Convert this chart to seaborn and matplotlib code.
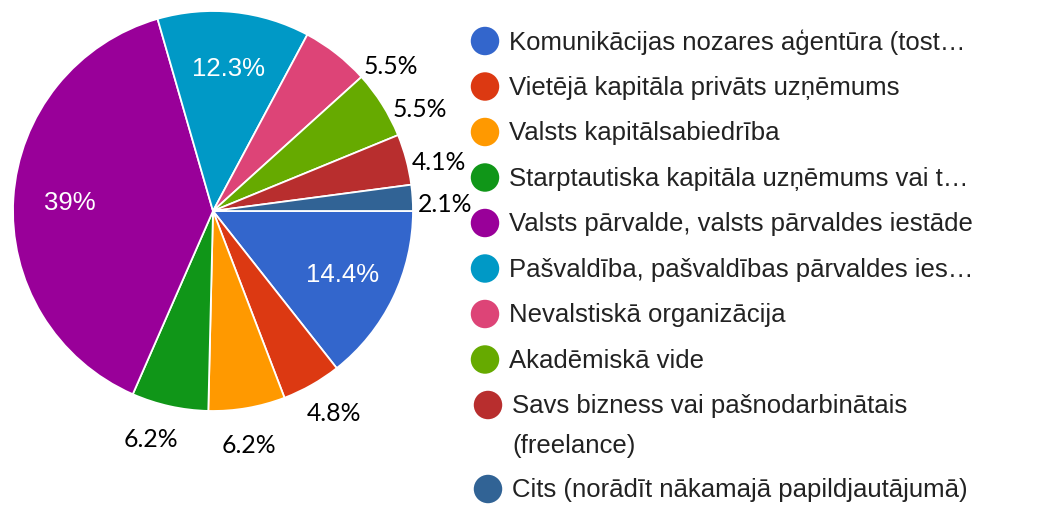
import numpy as np
import matplotlib
matplotlib.use('Agg')
import matplotlib.pyplot as plt
import seaborn as sns

# dati
categories = [
    'Komunikācijas nozares aģentūra (tost…',
    'Vietējā kapitāla privāts uzņēmums',
    'Valsts kapitālsabiedrība',
    'Starptautiska kapitāla uzņēmums vai t…',
    'Valsts pārvalde, valsts pārvaldes iestāde',
    'Pašvaldība, pašvaldības pārvaldes ies…',
    'Nevalstiskā organizācija',
    'Akadēmiskā vide',
    'Savs bizness vai pašnodarbinātais\n(freelance)',
    'Cits (norādīt nākamajā papildjautājumā)',
]
shares = [14.4, 4.8, 6.2, 6.2, 39.0, 12.3, 5.5, 5.5, 4.1, 2.1]
pct_labels = ['14.4%', '4.8%', '6.2%', '6.2%', '39%', '12.3%', '5.5%', '5.5%', '4.1%', '2.1%']
inside = [True, False, False, False, True, True, False, False, False, False]
colors = ['#3366cc', '#dc3912', '#ff9900', '#109618', '#990099',
          '#0099c6', '#dd4477', '#66aa00', '#b82e2e', '#316395']

sns.set_theme(style='white')
plt.rcParams['font.family'] = ['Liberation Sans', 'DejaVu Sans']

W, H = 1038, 506
fig = plt.figure(figsize=(W / 100, H / 100), dpi=100)

# pīrāga diagramma
cx, cy, R = 213, 212, 200
ax = fig.add_axes([(cx - R) / W, (H - cy - R) / H, 2 * R / W, 2 * R / H])
palette = sns.color_palette(colors)
wedges, _ = ax.pie(shares, colors=palette, startangle=0, counterclock=False,
                   radius=1.0, wedgeprops=dict(edgecolor='white', linewidth=1.3))
ax.set_xlim(-1, 1)
ax.set_ylim(-1, 1)
ax.set_aspect('equal')
ax.axis('off')

# nelielas korekcijas ārējo uzrakstu leņķiem (grādos)
angle_nudge = {1: 2, 2: -1, 3: -3, 6: -12, 7: -5, 8: -1.5, 9: -1}
for i, w in enumerate(wedges):
    mid = np.deg2rad((w.theta1 + w.theta2) / 2 + angle_nudge.get(i, 0))
    if inside[i]:
        r = 0.72
        ax.text(r * np.cos(mid), r * np.sin(mid), pct_labels[i], color='white',
                fontsize=18.5, ha='center', va='center')
    else:
        r = 1.16
        ax.text(r * np.cos(mid), r * np.sin(mid) - 0.02, pct_labels[i], color='black',
                fontsize=17.8, ha='center', va='center',
                family=['Lato', 'DejaVu Sans'])

# leģenda
lax = fig.add_axes([0, 0, 1, 1])
lax.set_xlim(0, W)
lax.set_ylim(H, 0)
lax.axis('off')
y = 42
for i, lab in enumerate(categories):
    shift = 3 if i >= 8 else 0
    lax.scatter([485 + shift], [y], s=420, color=palette[i], edgecolor='none')
    lines = lab.split('\n')
    for j, line in enumerate(lines):
        lax.text(509 + shift, y + 40 * j, line, fontsize=18.5, color='#222222',
                 va='center')
    y += 45.5 + 38.5 * (len(lines) - 1)

fig.savefig('out.png', dpi=100, facecolor='white')
